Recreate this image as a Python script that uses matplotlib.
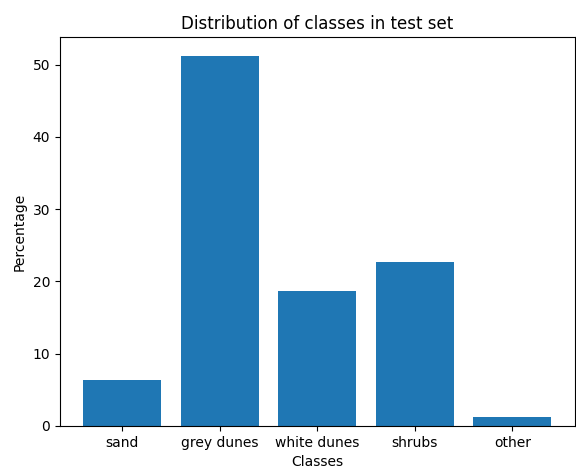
import matplotlib
matplotlib.use("Agg")
import matplotlib.pyplot as plt

# Percentages per class in the test set
classes = ["sand", "grey dunes", "white dunes", "shrubs", "other"]
percentages = [6.4, 51.25, 18.6, 22.65, 1.2]

fig, ax = plt.subplots(figsize=(5.76, 4.70), dpi=100)
fig.subplots_adjust(left=0.104, right=0.998, top=0.921, bottom=0.094)

ax.bar(classes, percentages)
ax.set_title("Distribution of classes in test set")
ax.set_xlabel("Classes")
ax.set_ylabel("Percentage")

fig.savefig("out.png", dpi=100)
